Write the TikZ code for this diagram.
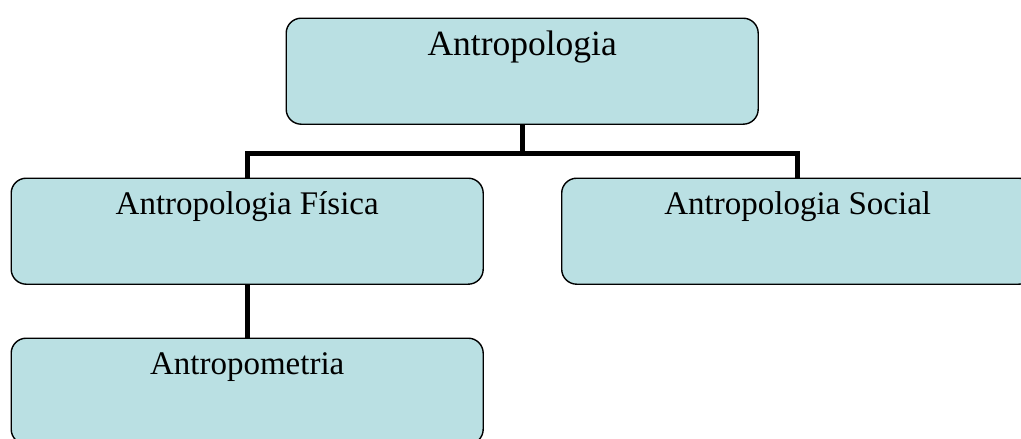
\documentclass[tikz,border=0pt]{standalone}
\usepackage{fontspec}
\setmainfont{Liberation Serif}
\definecolor{boxfill}{RGB}{186,224,227}
\begin{document}
\begin{tikzpicture}[x=1pt,y=-1pt,
  box/.style={draw=black, line width=1.4pt, fill=boxfill, rounded corners=15pt,
    minimum width=472pt, minimum height=106pt, inner sep=0pt, anchor=north west},
  boxtext/.style={anchor=base, yshift=-37pt, inner sep=0pt,
    font=\fontsize{33pt}{38pt}\selectfont},
  roottext/.style={boxtext, yshift=-1pt, font=\fontsize{35.5pt}{40pt}\selectfont},
  conn/.style={draw=black, line width=5pt}]
  \useasboundingbox (0,0) rectangle (1021,439);
  \clip (0,0) rectangle (1021,439);

  % tree nodes
  \node[box, label={[roottext]north:Antropologia}] (root) at (285.5,17.5) {};
  \node[box, label={[boxtext]north:Antropologia Física}] (fisica) at (10.5,177.5) {};
  \node[box, label={[boxtext]north:Antropologia Social}] (social) at (561,177.5) {};
  \node[box, label={[boxtext]north:Antropometria}] (metria) at (10.5,337.5) {};

  % branch lines
  \coordinate (joint) at (root.south |- 0,153);
  \draw[conn] (root.south) -- (joint);
  \draw[conn] (fisica.north) |- (joint) -| (social.north);
  \draw[conn] (fisica.south) -- (metria.north);
\end{tikzpicture}
\end{document}
